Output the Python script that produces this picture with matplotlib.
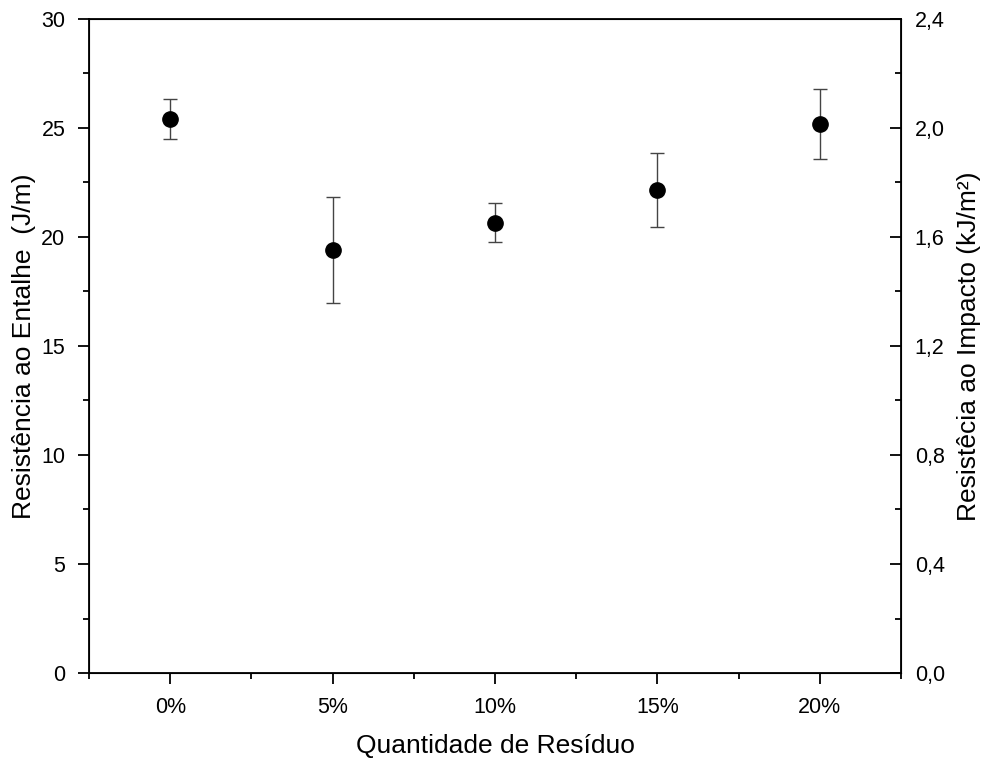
import matplotlib
matplotlib.use("Agg")
import matplotlib.pyplot as plt
import numpy as np
from matplotlib.ticker import MultipleLocator, FuncFormatter

plt.rcParams['font.family'] = ['Liberation Sans', 'DejaVu Sans']

# dados
categorias = ['0%', '5%', '10%', '15%', '20%']
entalhe = [25.4, 19.4, 20.65, 22.15, 25.2]
erro = [0.92, 2.42, 0.9, 1.7, 1.6]

fig = plt.figure(figsize=(9.85, 7.59), dpi=100)
ax = fig.add_axes([0.0904, 0.1133, 0.8243, 0.8617])

x = np.arange(len(categorias))
ax.errorbar(x, entalhe, yerr=erro, fmt='o', color='black', ms=11,
            ecolor='#444444', elinewidth=1.0, capsize=5, capthick=1.0)

ax.set_xlim(-0.5, 4.5)
ax.set_ylim(0, 30)
ax.set_xticks(x)
ax.set_xticklabels(categorias)
ax.xaxis.set_minor_locator(MultipleLocator(1, offset=0.5))
ax.yaxis.set_major_locator(MultipleLocator(5))
ax.yaxis.set_minor_locator(MultipleLocator(2.5))
ax.tick_params(which='major', direction='out', length=8, width=1.3, labelsize=15.5, pad=9)
ax.tick_params(which='minor', direction='out', length=4, width=1.3)
ax.set_xlabel('Quantidade de Resíduo', fontsize=19, labelpad=12)
ax.set_ylabel('Resistência ao Entalhe  (J/m)', fontsize=19, labelpad=4)
for s in ax.spines.values():
    s.set_linewidth(1.3)

ax2 = ax.twinx()
ax2.set_ylim(0, 2.4)
ax2.yaxis.set_major_locator(MultipleLocator(0.4))
ax2.yaxis.set_minor_locator(MultipleLocator(0.2))
ax2.yaxis.set_major_formatter(FuncFormatter(lambda v, p: f'{v:.1f}'.replace('.', ',')))
ax2.tick_params(which='major', direction='in', length=8, width=1.3, labelsize=15.5, pad=10)
ax2.tick_params(which='minor', direction='in', length=4, width=1.3)
ax2.set_ylabel('Resistêcia ao Impacto (kJ/m²)', fontsize=19, labelpad=9)

plt.savefig('out.png', dpi=100)
